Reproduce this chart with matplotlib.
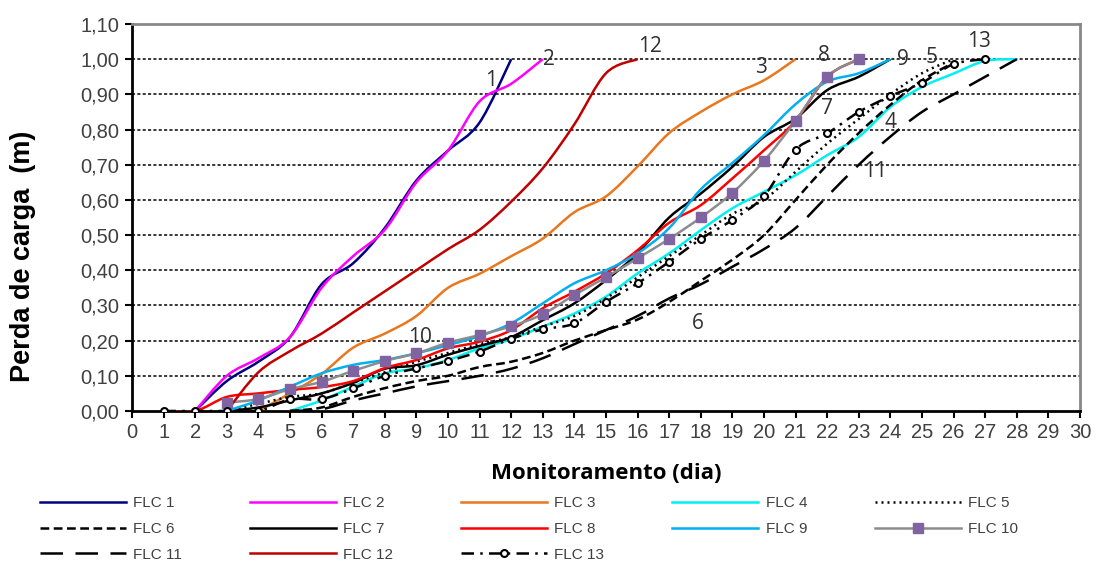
import numpy as np
import matplotlib
matplotlib.use("Agg")
import matplotlib.pyplot as plt
from matplotlib.path import Path
from matplotlib.patches import PathPatch
from matplotlib.lines import Line2D
from matplotlib.ticker import FuncFormatter, MultipleLocator

# perda de carga (m), um valor por dia a partir do dia inicial
flc1_dias = list(range(2, 13))
flc1 = [0, 0.085, 0.14, 0.21, 0.36, 0.42, 0.52, 0.655, 0.74, 0.82, 1.0]
flc2_dias = list(range(2, 14))
flc2 = [0, 0.10, 0.15, 0.21, 0.35, 0.44, 0.515, 0.65, 0.74, 0.88, 0.93, 1.0]
flc3_dias = list(range(4, 22))
flc3 = [0, 0.05, 0.105, 0.18, 0.22, 0.27, 0.35, 0.39, 0.44, 0.49, 0.565, 0.61,
        0.695, 0.79, 0.85, 0.90, 0.94, 1.0]
flc4_dias = list(range(5, 29))
flc4 = [0, 0.03, 0.069, 0.107, 0.121, 0.145, 0.178, 0.204, 0.24, 0.277, 0.325,
        0.391, 0.448, 0.514, 0.576, 0.623, 0.67, 0.727, 0.779, 0.864, 0.921,
        0.959, 0.995, 1.0]
flc5_dias = list(range(3, 27))
flc5 = [0, 0.02, 0.04, 0.05, 0.08, 0.11, 0.14, 0.165, 0.19, 0.21, 0.24, 0.27,
        0.32, 0.38, 0.44, 0.50, 0.56, 0.60, 0.68, 0.76, 0.83, 0.90, 0.96, 1.0]
flc6_dias = list(range(5, 27))
flc6 = [0, 0.01, 0.04, 0.065, 0.085, 0.10, 0.125, 0.14, 0.165, 0.20, 0.23, 0.26,
        0.31, 0.37, 0.43, 0.50, 0.60, 0.70, 0.79, 0.87, 0.94, 0.99]
flc7_dias = list(range(3, 25))
flc7 = [0, 0.01, 0.03, 0.05, 0.08, 0.12, 0.13, 0.16, 0.185, 0.21, 0.258, 0.306,
        0.372, 0.448, 0.55, 0.618, 0.694, 0.779, 0.831, 0.912, 0.95, 1.0]
flc8_dias = list(range(1, 24))
flc8 = [0, 0, 0.04, 0.05, 0.06, 0.068, 0.085, 0.122, 0.145, 0.178, 0.197, 0.23,
        0.292, 0.339, 0.391, 0.457, 0.535, 0.585, 0.661, 0.741, 0.825, 0.95, 1.0]
flc9_dias = list(range(3, 25))
flc9 = [0, 0.03, 0.069, 0.107, 0.131, 0.145, 0.164, 0.187, 0.213, 0.249, 0.306,
        0.363, 0.40, 0.448, 0.52, 0.63, 0.705, 0.784, 0.872, 0.936, 0.96, 1.0]
flc10_dias = list(range(3, 24))
flc10 = [0.024, 0.034, 0.062, 0.083, 0.114, 0.142, 0.164, 0.194, 0.216, 0.241,
         0.275, 0.33, 0.38, 0.434, 0.489, 0.55, 0.62, 0.711, 0.825, 0.95, 1.0]
flc11_dias = list(range(5, 29))
flc11 = [0, 0.005, 0.03, 0.05, 0.07, 0.085, 0.10, 0.12, 0.15, 0.19, 0.23, 0.27,
         0.32, 0.36, 0.41, 0.46, 0.52, 0.61, 0.70, 0.78, 0.85, 0.90, 0.95, 1.0]
flc12_dias = list(range(3, 17))
flc12 = [0, 0.11, 0.17, 0.22, 0.28, 0.34, 0.40, 0.46, 0.515, 0.595, 0.69, 0.815,
         0.96, 1.0]
flc13_dias = list(range(1, 28))
flc13 = [0, 0, 0, 0, 0.033, 0.034, 0.064, 0.10, 0.121, 0.142, 0.169, 0.205,
         0.232, 0.249, 0.31, 0.363, 0.424, 0.489, 0.543, 0.611, 0.743, 0.789,
         0.85, 0.895, 0.933, 0.986, 1.0]

# rotulos numericos dentro do grafico (dia, perda de carga)
rotulos = ["1", "2", "12", "3", "8", "9", "5", "13", "7", "4", "11", "6", "10"]
rot_x = [11.35, 13.2, 16.4, 19.9, 21.9, 24.4, 25.3, 26.8, 22.0, 24.0, 23.5, 17.9, 9.1]
rot_y = [0.94, 1.0, 1.035, 0.975, 1.01, 1.0, 1.005, 1.05, 0.86, 0.82, 0.68, 0.25, 0.21]

plt.rcParams['font.family'] = ['Liberation Sans', 'DejaVu Sans']


def curva(ax, x, y, **kw):
    # linha suavizada (como no Excel): segmentos Bezier entre os pontos
    pts = np.column_stack([np.asarray(x, float), np.asarray(y, float)])
    n = len(pts)
    verts = [pts[0]]
    codes = [Path.MOVETO]
    for i in range(n - 1):
        p0 = pts[max(i - 1, 0)]
        p1 = pts[i]
        p2 = pts[i + 1]
        p3 = pts[min(i + 2, n - 1)]
        verts += [p1 + (p2 - p0) / 6, p2 - (p3 - p1) / 6, p2]
        codes += [Path.CURVE4] * 3
    ax.add_patch(PathPatch(Path(verts, codes), fill=False, capstyle='butt',
                           joinstyle='round', **kw))


fig = plt.figure(figsize=(10.97, 5.63), dpi=100)
ax = fig.add_axes([0.1203, 0.27, 0.8642, 0.6874])

lw = 1.8
series = [
    ("FLC 1", flc1_dias, flc1, dict(color="#000080", ls="-")),
    ("FLC 2", flc2_dias, flc2, dict(color="#FF00FF", ls="-")),
    ("FLC 3", flc3_dias, flc3, dict(color="#E8771E", ls="-")),
    ("FLC 4", flc4_dias, flc4, dict(color="#00F0F0", ls="-")),
    ("FLC 5", flc5_dias, flc5, dict(color="black", ls=(0, (0.8, 1.6)))),
    ("FLC 6", flc6_dias, flc6, dict(color="black", ls=(0, (3.5, 1.8)))),
    ("FLC 7", flc7_dias, flc7, dict(color="black", ls="-")),
    ("FLC 8", flc8_dias, flc8, dict(color="#FF0000", ls="-")),
    ("FLC 9", flc9_dias, flc9, dict(color="#00B0F0", ls="-")),
    ("FLC 10", flc10_dias, flc10, dict(color="#8C8C8C", ls="-")),
    ("FLC 11", flc11_dias, flc11, dict(color="black", ls=(0, (9, 5)))),
    ("FLC 12", flc12_dias, flc12, dict(color="#C00000", ls="-")),
    ("FLC 13", flc13_dias, flc13, dict(color="black", ls=(0, (5, 2.5, 1, 2.5)))),
]

handles = {}
for nome, x, y, st in series:
    curva(ax, x, y, edgecolor=st["color"], linewidth=lw, linestyle=st["ls"], zorder=3)
    handles[nome] = Line2D([0], [0], color=st["color"], lw=lw, ls=st["ls"])

ax.plot(flc10_dias, flc10, ls="none", marker="s", ms=6.5, color="#8064A2", zorder=4)
handles["FLC 10"] = Line2D([0], [0], color="#8C8C8C", lw=lw, marker="s", ms=6.5,
                           mfc="#8064A2", mec="#8064A2")
ax.plot(flc13_dias, flc13, ls="none", marker="o", ms=5, mfc="white", mec="black",
        mew=1.5, zorder=4)
handles["FLC 13"] = Line2D([0], [0], color="black", lw=lw, ls=(0, (5, 2.5, 1, 2.5)),
                           marker="o", ms=5, mfc="white", mec="black", mew=1.5)

for t, x, y in zip(rotulos, rot_x, rot_y):
    ax.text(x, y, t, fontsize=15, color="#303030", family="Open Sans",
            ha="center", va="center", zorder=5)

ax.set_xlim(0, 30)
ax.set_ylim(0, 1.1)
ax.xaxis.set_major_locator(MultipleLocator(1))
ax.yaxis.set_major_locator(MultipleLocator(0.1))
ax.yaxis.set_major_formatter(FuncFormatter(lambda v, p: f"{v:.2f}".replace(".", ",")))
ax.tick_params(direction="out", length=5, width=1.5, labelsize=14.5,
               labelcolor="#404040", pad=4)

for g in np.arange(0.1, 1.05, 0.1):
    ax.axhline(g, color="black", lw=1.1, ls=(0, (2, 1.5)), zorder=1)

ax.spines["left"].set_linewidth(2)
ax.spines["bottom"].set_linewidth(2)
ax.spines["top"].set_color("#888888")
ax.spines["right"].set_color("#888888")
ax.spines["top"].set_linewidth(2)
ax.spines["right"].set_linewidth(2)

ax.set_ylabel("Perda de carga  (m)", fontsize=19.5, fontweight="bold")
ax.yaxis.set_label_coords(-0.101, 0.40)
ax.set_xlabel("Monitoramento (dia)", fontsize=16, fontweight="bold",
              family="Open Sans", labelpad=15)

ordem = ["FLC 1", "FLC 6", "FLC 11", "FLC 2", "FLC 7", "FLC 12", "FLC 3", "FLC 8",
         "FLC 13", "FLC 4", "FLC 9", "FLC 5", "FLC 10"]
leg = fig.legend([handles[n] for n in ordem], ordem, loc="upper left",
                 bbox_to_anchor=(40 / 1097, 1 - 496 / 563), ncol=5, frameon=False,
                 fontsize=11, handlelength=5.6, handletextpad=0.5,
                 columnspacing=4.45, labelspacing=0.78, borderpad=0, borderaxespad=0)
for t in leg.get_texts():
    t.set_color("#404040")

fig.savefig("out.png", dpi=100)
